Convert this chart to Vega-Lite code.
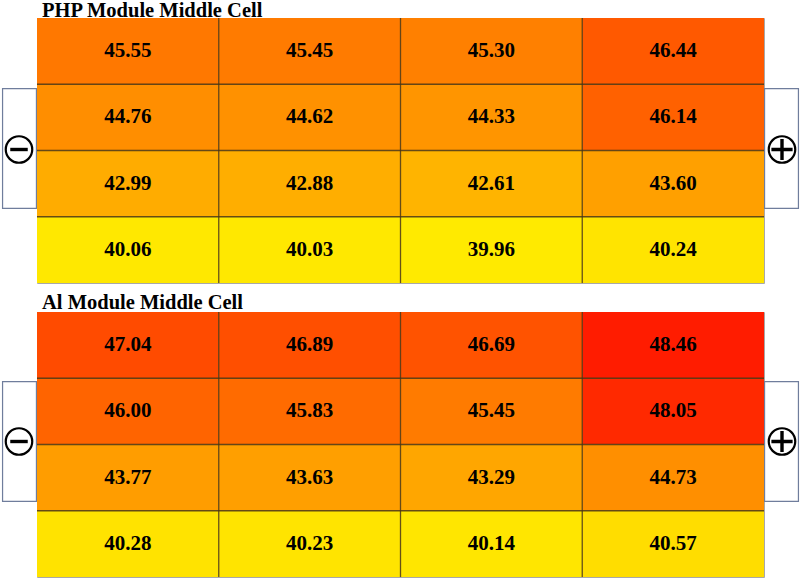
{
  "$schema": "https://vega.github.io/schema/vega-lite/v6.json",
  "background": "white",
  "padding": 0,
  "autosize": {"type": "pad"},
  "spacing": 7,
  "config": {"view": {"stroke": "#a8a8a8", "strokeWidth": 1}},
  "datasets": {
    "cells": [
      {"panel": "PHP", "row": 1, "col": 1, "value": 45.55},
      {"panel": "PHP", "row": 1, "col": 2, "value": 45.45},
      {"panel": "PHP", "row": 1, "col": 3, "value": 45.30},
      {"panel": "PHP", "row": 1, "col": 4, "value": 46.44},
      {"panel": "PHP", "row": 2, "col": 1, "value": 44.76},
      {"panel": "PHP", "row": 2, "col": 2, "value": 44.62},
      {"panel": "PHP", "row": 2, "col": 3, "value": 44.33},
      {"panel": "PHP", "row": 2, "col": 4, "value": 46.14},
      {"panel": "PHP", "row": 3, "col": 1, "value": 42.99},
      {"panel": "PHP", "row": 3, "col": 2, "value": 42.88},
      {"panel": "PHP", "row": 3, "col": 3, "value": 42.61},
      {"panel": "PHP", "row": 3, "col": 4, "value": 43.60},
      {"panel": "PHP", "row": 4, "col": 1, "value": 40.06},
      {"panel": "PHP", "row": 4, "col": 2, "value": 40.03},
      {"panel": "PHP", "row": 4, "col": 3, "value": 39.96},
      {"panel": "PHP", "row": 4, "col": 4, "value": 40.24},
      {"panel": "Al", "row": 1, "col": 1, "value": 47.04},
      {"panel": "Al", "row": 1, "col": 2, "value": 46.89},
      {"panel": "Al", "row": 1, "col": 3, "value": 46.69},
      {"panel": "Al", "row": 1, "col": 4, "value": 48.46},
      {"panel": "Al", "row": 2, "col": 1, "value": 46.00},
      {"panel": "Al", "row": 2, "col": 2, "value": 45.83},
      {"panel": "Al", "row": 2, "col": 3, "value": 45.45},
      {"panel": "Al", "row": 2, "col": 4, "value": 48.05},
      {"panel": "Al", "row": 3, "col": 1, "value": 43.77},
      {"panel": "Al", "row": 3, "col": 2, "value": 43.63},
      {"panel": "Al", "row": 3, "col": 3, "value": 43.29},
      {"panel": "Al", "row": 3, "col": 4, "value": 44.73},
      {"panel": "Al", "row": 4, "col": 1, "value": 40.28},
      {"panel": "Al", "row": 4, "col": 2, "value": 40.23},
      {"panel": "Al", "row": 4, "col": 3, "value": 40.14},
      {"panel": "Al", "row": 4, "col": 4, "value": 40.57}
    ]
  },
  "vconcat": [
    {
      "title": {"text": "PHP Module Middle Cell", "anchor": "start", "frame": "group", "font": "Liberation Serif", "fontSize": 20.5, "fontWeight": "bold", "color": "black", "baseline": "alphabetic", "offset": -20, "dx": 5},
      "width": 727,
      "height": 265,
      "data": {"name": "cells"},
      "encoding": {
        "x": {"field": "col", "type": "ordinal", "axis": null, "scale": {"paddingInner": 0, "paddingOuter": 0}},
        "y": {"field": "row", "type": "ordinal", "axis": null, "scale": {"paddingInner": 0, "paddingOuter": 0}}
      },
      "layer": [
        {"transform": [{"filter": "datum.panel === 'PHP' && datum.row === 3 && datum.col === 1"}],
         "mark": {"type": "point", "shape": "M-0.29,-1H0.29V1H-0.29Z", "size": 14641, "filled": true, "fill": "#6f7d9c", "opacity": 1, "xOffset": -17.5, "yOffset": -2},
         "encoding": {"x": {"field": "col", "type": "ordinal", "bandPosition": 0}, "y": {"field": "row", "type": "ordinal", "bandPosition": 0}}},
        {"transform": [{"filter": "datum.panel === 'PHP' && datum.row === 3 && datum.col === 1"}],
         "mark": {"type": "point", "shape": "M-0.27,-0.98H0.27V0.98H-0.27Z", "size": 14641, "filled": true, "fill": "white", "opacity": 1, "xOffset": -17.5, "yOffset": -2},
         "encoding": {"x": {"field": "col", "type": "ordinal", "bandPosition": 0}, "y": {"field": "row", "type": "ordinal", "bandPosition": 0}}},
        {"transform": [{"filter": "datum.panel === 'PHP' && datum.row === 3 && datum.col === 4"}],
         "mark": {"type": "point", "shape": "M-0.29,-1H0.29V1H-0.29Z", "size": 14641, "filled": true, "fill": "#6f7d9c", "opacity": 1, "xOffset": 17.5, "yOffset": -2},
         "encoding": {"x": {"field": "col", "type": "ordinal", "bandPosition": 1}, "y": {"field": "row", "type": "ordinal", "bandPosition": 0}}},
        {"transform": [{"filter": "datum.panel === 'PHP' && datum.row === 3 && datum.col === 4"}],
         "mark": {"type": "point", "shape": "M-0.27,-0.98H0.27V0.98H-0.27Z", "size": 14641, "filled": true, "fill": "white", "opacity": 1, "xOffset": 17.5, "yOffset": -2},
         "encoding": {"x": {"field": "col", "type": "ordinal", "bandPosition": 1}, "y": {"field": "row", "type": "ordinal", "bandPosition": 0}}},
        {"transform": [{"filter": "datum.panel === 'PHP'"}],
         "mark": {"type": "rect"},
         "encoding": {"color": {"field": "value", "type": "quantitative", "legend": null,
           "scale": {"domain": [39.96, 40.6, 42.6, 43.3, 43.8, 44.7, 45.5, 46.0, 47.0, 48.46], "range": ["#ffea00", "#ffdc00", "#ffb400", "#ffa600", "#ff9c00", "#ff9000", "#ff7a00", "#ff6400", "#ff4c00", "#ff1c00"], "interpolate": "rgb"}}}},
        {"transform": [{"filter": "datum.panel === 'PHP' && datum.row === 1 && datum.col > 1"}],
         "mark": {"type": "rule", "color": "#4a3510", "strokeWidth": 1.3, "opacity": 0.85},
         "encoding": {"x": {"field": "col", "type": "ordinal", "bandPosition": 0}, "y": null}},
        {"transform": [{"filter": "datum.panel === 'PHP' && datum.col === 1 && datum.row > 1"}],
         "mark": {"type": "rule", "color": "#4a3510", "strokeWidth": 1.3, "opacity": 0.85},
         "encoding": {"y": {"field": "row", "type": "ordinal", "bandPosition": 0}, "x": null}},
        {"transform": [{"filter": "datum.panel === 'PHP'"}],
         "mark": {"type": "text", "font": "Liberation Serif", "fontSize": 21, "fontWeight": "bold", "color": "black"},
         "encoding": {"text": {"field": "value", "type": "quantitative", "format": ".2f"}}},
        {"transform": [{"filter": "datum.panel === 'PHP' && datum.row === 3 && datum.col === 1"}],
         "mark": {"type": "point", "shape": "circle", "size": 702, "filled": false, "stroke": "black", "strokeWidth": 2.2, "opacity": 1, "xOffset": -18, "yOffset": -1},
         "encoding": {"x": {"field": "col", "type": "ordinal", "bandPosition": 0}, "y": {"field": "row", "type": "ordinal", "bandPosition": 0}}},
        {"transform": [{"filter": "datum.panel === 'PHP' && datum.row === 3 && datum.col === 1"}],
         "mark": {"type": "point", "shape": "M-0.66,0H0.66", "size": 702, "filled": false, "stroke": "black", "strokeWidth": 3.4, "opacity": 1, "xOffset": -18, "yOffset": -1},
         "encoding": {"x": {"field": "col", "type": "ordinal", "bandPosition": 0}, "y": {"field": "row", "type": "ordinal", "bandPosition": 0}}},
        {"transform": [{"filter": "datum.panel === 'PHP' && datum.row === 3 && datum.col === 4"}],
         "mark": {"type": "point", "shape": "circle", "size": 702, "filled": false, "stroke": "black", "strokeWidth": 2.2, "opacity": 1, "xOffset": 18, "yOffset": -1},
         "encoding": {"x": {"field": "col", "type": "ordinal", "bandPosition": 1}, "y": {"field": "row", "type": "ordinal", "bandPosition": 0}}},
        {"transform": [{"filter": "datum.panel === 'PHP' && datum.row === 3 && datum.col === 4"}],
         "mark": {"type": "point", "shape": "M-0.8,0H0.8M0,-0.8V0.8", "size": 702, "filled": false, "stroke": "black", "strokeWidth": 3.4, "opacity": 1, "xOffset": 18, "yOffset": -1},
         "encoding": {"x": {"field": "col", "type": "ordinal", "bandPosition": 1}, "y": {"field": "row", "type": "ordinal", "bandPosition": 0}}}
      ]
    },
    {
      "title": {"text": "Al Module Middle Cell", "anchor": "start", "frame": "group", "font": "Liberation Serif", "fontSize": 20.5, "fontWeight": "bold", "color": "black", "baseline": "alphabetic", "offset": -18, "dx": 5},
      "width": 727,
      "height": 265,
      "data": {"name": "cells"},
      "encoding": {
        "x": {"field": "col", "type": "ordinal", "axis": null, "scale": {"paddingInner": 0, "paddingOuter": 0}},
        "y": {"field": "row", "type": "ordinal", "axis": null, "scale": {"paddingInner": 0, "paddingOuter": 0}}
      },
      "layer": [
        {"transform": [{"filter": "datum.panel === 'Al' && datum.row === 3 && datum.col === 1"}],
         "mark": {"type": "point", "shape": "M-0.29,-1H0.29V1H-0.29Z", "size": 14641, "filled": true, "fill": "#6f7d9c", "opacity": 1, "xOffset": -17.5, "yOffset": -3},
         "encoding": {"x": {"field": "col", "type": "ordinal", "bandPosition": 0}, "y": {"field": "row", "type": "ordinal", "bandPosition": 0}}},
        {"transform": [{"filter": "datum.panel === 'Al' && datum.row === 3 && datum.col === 1"}],
         "mark": {"type": "point", "shape": "M-0.27,-0.98H0.27V0.98H-0.27Z", "size": 14641, "filled": true, "fill": "white", "opacity": 1, "xOffset": -17.5, "yOffset": -3},
         "encoding": {"x": {"field": "col", "type": "ordinal", "bandPosition": 0}, "y": {"field": "row", "type": "ordinal", "bandPosition": 0}}},
        {"transform": [{"filter": "datum.panel === 'Al' && datum.row === 3 && datum.col === 4"}],
         "mark": {"type": "point", "shape": "M-0.29,-1H0.29V1H-0.29Z", "size": 14641, "filled": true, "fill": "#6f7d9c", "opacity": 1, "xOffset": 17.5, "yOffset": -3},
         "encoding": {"x": {"field": "col", "type": "ordinal", "bandPosition": 1}, "y": {"field": "row", "type": "ordinal", "bandPosition": 0}}},
        {"transform": [{"filter": "datum.panel === 'Al' && datum.row === 3 && datum.col === 4"}],
         "mark": {"type": "point", "shape": "M-0.27,-0.98H0.27V0.98H-0.27Z", "size": 14641, "filled": true, "fill": "white", "opacity": 1, "xOffset": 17.5, "yOffset": -3},
         "encoding": {"x": {"field": "col", "type": "ordinal", "bandPosition": 1}, "y": {"field": "row", "type": "ordinal", "bandPosition": 0}}},
        {"transform": [{"filter": "datum.panel === 'Al'"}],
         "mark": {"type": "rect"},
         "encoding": {"color": {"field": "value", "type": "quantitative", "legend": null,
           "scale": {"domain": [39.96, 40.6, 42.6, 43.3, 43.8, 44.7, 45.5, 46.0, 47.0, 48.46], "range": ["#ffea00", "#ffdc00", "#ffb400", "#ffa600", "#ff9c00", "#ff9000", "#ff7a00", "#ff6400", "#ff4c00", "#ff1c00"], "interpolate": "rgb"}}}},
        {"transform": [{"filter": "datum.panel === 'Al' && datum.row === 1 && datum.col > 1"}],
         "mark": {"type": "rule", "color": "#4a3510", "strokeWidth": 1.3, "opacity": 0.85},
         "encoding": {"x": {"field": "col", "type": "ordinal", "bandPosition": 0}, "y": null}},
        {"transform": [{"filter": "datum.panel === 'Al' && datum.col === 1 && datum.row > 1"}],
         "mark": {"type": "rule", "color": "#4a3510", "strokeWidth": 1.3, "opacity": 0.85},
         "encoding": {"y": {"field": "row", "type": "ordinal", "bandPosition": 0}, "x": null}},
        {"transform": [{"filter": "datum.panel === 'Al'"}],
         "mark": {"type": "text", "font": "Liberation Serif", "fontSize": 21, "fontWeight": "bold", "color": "black"},
         "encoding": {"text": {"field": "value", "type": "quantitative", "format": ".2f"}}},
        {"transform": [{"filter": "datum.panel === 'Al' && datum.row === 3 && datum.col === 1"}],
         "mark": {"type": "point", "shape": "circle", "size": 702, "filled": false, "stroke": "black", "strokeWidth": 2.2, "opacity": 1, "xOffset": -18, "yOffset": -3},
         "encoding": {"x": {"field": "col", "type": "ordinal", "bandPosition": 0}, "y": {"field": "row", "type": "ordinal", "bandPosition": 0}}},
        {"transform": [{"filter": "datum.panel === 'Al' && datum.row === 3 && datum.col === 1"}],
         "mark": {"type": "point", "shape": "M-0.66,0H0.66", "size": 702, "filled": false, "stroke": "black", "strokeWidth": 3.4, "opacity": 1, "xOffset": -18, "yOffset": -3},
         "encoding": {"x": {"field": "col", "type": "ordinal", "bandPosition": 0}, "y": {"field": "row", "type": "ordinal", "bandPosition": 0}}},
        {"transform": [{"filter": "datum.panel === 'Al' && datum.row === 3 && datum.col === 4"}],
         "mark": {"type": "point", "shape": "circle", "size": 702, "filled": false, "stroke": "black", "strokeWidth": 2.2, "opacity": 1, "xOffset": 18, "yOffset": -3},
         "encoding": {"x": {"field": "col", "type": "ordinal", "bandPosition": 1}, "y": {"field": "row", "type": "ordinal", "bandPosition": 0}}},
        {"transform": [{"filter": "datum.panel === 'Al' && datum.row === 3 && datum.col === 4"}],
         "mark": {"type": "point", "shape": "M-0.8,0H0.8M0,-0.8V0.8", "size": 702, "filled": false, "stroke": "black", "strokeWidth": 3.4, "opacity": 1, "xOffset": 18, "yOffset": -3},
         "encoding": {"x": {"field": "col", "type": "ordinal", "bandPosition": 1}, "y": {"field": "row", "type": "ordinal", "bandPosition": 0}}}
      ]
    }
  ]
}
